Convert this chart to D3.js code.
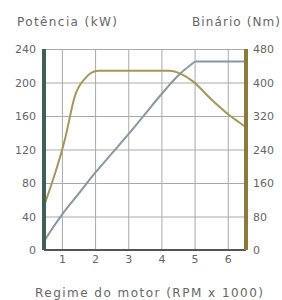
<!DOCTYPE html>
<html>
<head>
<meta charset="utf-8">
<script src="https://cdn.jsdelivr.net/npm/d3@7"></script>
<style>
  body { margin: 0; background: #fff; }
  text { font-family: "DejaVu Sans", sans-serif; fill: #666; }
</style>
</head>
<body>
<script>
// data
const rpmTicks = [1, 2, 3, 4, 5, 6];
const powerTicks = [0, 40, 80, 120, 160, 200, 240];
const torqueTicks = [0, 80, 160, 240, 320, 400, 480];

const powerRpm = [0.46, 0.7, 1.0, 1.5, 2.0, 2.5, 3.0, 3.5, 4.0, 4.5, 4.85, 5.05, 6.55];
const powerKw = [10, 25, 42, 67, 92, 115, 138, 162, 186, 208, 220, 225, 225];

const torqueRpm = [0.46, 1.09, 1.4, 1.7, 2.09, 4.24, 4.6, 4.93, 5.5, 6.0, 6.34, 6.55];
const torqueNm = [105, 264, 370, 410, 428, 428, 420, 404, 360, 325, 305, 293];

// sizes
const width = 282, height = 300;
const margin = { left: 44, right: 36, top: 49, bottom: 50 };

const svg = d3.select('body').append('svg')
  .attr('width', width)
  .attr('height', height);

const x = d3.scaleLinear().domain([0.46, 6.55]).range([margin.left, width - margin.right]);
const yP = d3.scaleLinear().domain([0, 240]).range([height - margin.bottom, margin.top]);
const yT = d3.scaleLinear().domain([0, 480]).range([height - margin.bottom, margin.top]);

// grid
svg.append('g')
  .attr('transform', `translate(0,${height - margin.bottom})`)
  .call(d3.axisBottom(x).tickValues(rpmTicks).tickSize(-(height - margin.top - margin.bottom)).tickFormat(''))
  .call(g => g.select('.domain').remove())
  .call(g => g.selectAll('line').attr('stroke', '#aaa').attr('stroke-width', 1));

svg.append('g')
  .attr('transform', `translate(${margin.left},0)`)
  .call(d3.axisLeft(yP).tickValues(powerTicks.slice(1)).tickSize(-(width - margin.left - margin.right)).tickFormat(''))
  .call(g => g.select('.domain').remove())
  .call(g => g.selectAll('line').attr('stroke', '#aaa').attr('stroke-width', 1));

// curves
const line = (ys) => d3.line().x(d => x(d[0])).y(d => ys(d[1])).curve(d3.curveMonotoneX);

svg.append('path')
  .datum(powerRpm.map((r, i) => [r, powerKw[i]]))
  .attr('d', line(yP))
  .attr('fill', 'none')
  .attr('stroke', '#8797a3')
  .attr('stroke-width', 2);

svg.append('path')
  .datum(torqueRpm.map((r, i) => [r, torqueNm[i]]))
  .attr('d', line(yT))
  .attr('fill', 'none')
  .attr('stroke', '#a8955a')
  .attr('stroke-width', 2);

// bottom axis
svg.append('line')
  .attr('x1', margin.left).attr('x2', width - margin.right)
  .attr('y1', height - margin.bottom).attr('y2', height - margin.bottom)
  .attr('stroke', '#555').attr('stroke-width', 2);

svg.append('g')
  .attr('transform', `translate(0,${height - margin.bottom})`)
  .call(d3.axisBottom(x).tickValues(rpmTicks).tickSize(0).tickPadding(5).tickFormat(d3.format('d')))
  .call(g => g.select('.domain').remove())
  .call(g => g.selectAll('text').attr('font-size', 11).attr('fill', '#777'));

// left axis bar
svg.append('rect')
  .attr('x', margin.left - 2).attr('y', margin.top)
  .attr('width', 4).attr('height', height - margin.top - margin.bottom)
  .attr('fill', '#3f5f58');

svg.append('g')
  .attr('transform', `translate(${margin.left - 3},0)`)
  .call(d3.axisLeft(yP).tickValues(powerTicks).tickSize(0).tickPadding(5).tickFormat(d3.format('d')))
  .call(g => g.select('.domain').remove())
  .call(g => g.selectAll('text').attr('font-size', 11).attr('fill', '#777'));

// right axis bar
svg.append('rect')
  .attr('x', width - margin.right - 2).attr('y', margin.top)
  .attr('width', 4).attr('height', height - margin.top - margin.bottom)
  .attr('fill', '#8a7a3c');

svg.append('g')
  .attr('transform', `translate(${width - margin.right + 2},0)`)
  .call(d3.axisRight(yT).tickValues(torqueTicks).tickSize(0).tickPadding(5).tickFormat(d3.format('d')))
  .call(g => g.select('.domain').remove())
  .call(g => g.selectAll('text').attr('font-size', 11).attr('fill', '#777'));

// titles
svg.append('text')
  .attr('x', 17).attr('y', 26)
  .attr('font-size', 12)
  .attr('fill', '#555')
  .attr('textLength', 100).attr('lengthAdjust', 'spacing')
  .text('Potência (kW)');

svg.append('text')
  .attr('x', 192).attr('y', 26)
  .attr('font-size', 12)
  .attr('fill', '#555')
  .attr('textLength', 88).attr('lengthAdjust', 'spacing')
  .text('Binário (Nm)');

svg.append('text')
  .attr('x', 35).attr('y', 297)
  .attr('font-size', 12)
  .attr('fill', '#555')
  .attr('textLength', 228).attr('lengthAdjust', 'spacing')
  .text('Regime do motor (RPM x 1000)');
</script>
</body>
</html>
